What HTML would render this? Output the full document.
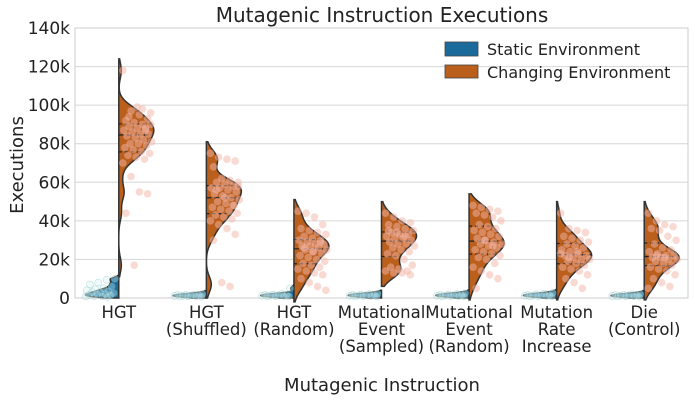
<!DOCTYPE html>
<html><head><meta charset="utf-8"><style>
body{margin:0;background:#fff;}
svg{display:block;font-family:"DejaVu Sans","Liberation Sans",sans-serif;}
</style></head><body>
<svg id="chart" width="695" height="401" viewBox="0 0 695 401">
<text x="382" y="22" text-anchor="middle" font-size="20" fill="#222">Mutagenic Instruction Executions</text>
<text x="382" y="391" text-anchor="middle" font-size="18" fill="#222">Mutagenic Instruction</text>
<text x="0" y="0" transform="translate(23,165) rotate(-90)" text-anchor="middle" font-size="18" fill="#222">Executions</text>
<g id="grid"></g><g id="marks"></g><g id="ticks"></g>
<g>
<rect x="445" y="42" width="33" height="14" fill="#1a6b9c" stroke="#444" stroke-width="0.8"/>
<text x="487" y="55" font-size="16" fill="#222">Static Environment</text>
<rect x="445" y="65" width="33" height="13" fill="#bb5f1c" stroke="#444" stroke-width="0.8"/>
<text x="487" y="78" font-size="16" fill="#222">Changing Environment</text>
</g>
</svg>
<script>
const categories=[["HGT"],["HGT","(Shuffled)"],["HGT","(Random)"],["Mutational","Event","(Sampled)"],["Mutational","Event","(Random)"],["Mutation","Rate","Increase"],["Die","(Control)"]];
const yTicks=[0,20000,40000,60000,80000,100000,120000,140000];
const yTickLabels=["0","20k","40k","60k","80k","100k","120k","140k"];
const changing=[
[118,97,95,93,92,91,90,90,89,88,88,87,86,85,85,84,83,82,81,80,80,79,78,77,76,75,74,73,72,70,63,55,54,44,17,98,96,94,99,87],
[75,73,72,71,68,62,61,60,60,59,58,57,57,56,55,54,53,52,51,50,49,48,47,46,45,44,43,42,41,40,38,36,33,30,8,6,58,56,52,48],
[45,44,42,38,36,35,34,33,32,31,30,30,29,28,28,27,27,26,25,25,24,23,22,21,20,19,18,17,16,15,14,13,12,10,8,6,4,26,24,29],
[44,42,40,39,38,37,36,35,34,33,33,32,31,31,30,29,28,28,27,26,25,24,23,22,20,17,16,15,14,14,13,13,12,35,34,32],
[48,47,46,45,44,43,42,40,38,37,36,35,34,33,32,31,30,29,28,28,27,26,25,24,23,22,21,20,18,16,14,12,10,5,30,27],
[44,36,35,34,32,31,30,29,28,27,26,25,24,23,22,22,21,20,20,19,18,17,16,15,14,12,10,8,5,23,21,24],
[44,40,38,37,36,35,32,30,28,26,25,24,23,22,22,21,21,20,20,19,18,17,16,15,14,12,10,8,6,5,22,21]];
const staticEnv=[
[10,9.5,8,7,6,5,4.5,4,3.5,3,3,2.5,2,2,1.5,1.5,1,1,0.8,0.5],
[2,1.8,1.6,1.5,1.4,1.3,1.2,1.1,1,0.9,0.8,0.7],
[5,2,1.8,1.6,1.5,1.4,1.3,1.2,1.1,1,0.9,0.8],
[2.2,2,1.8,1.6,1.5,1.4,1.3,1.2,1.1,1,0.9,0.8],
[2.4,2,1.8,1.6,1.5,1.4,1.3,1.2,1.1,1,0.9,0.8],
[2.6,2.2,1.9,1.6,1.5,1.4,1.3,1.2,1.1,1,0.9,0.8],
[2,1.8,1.6,1.5,1.4,1.3,1.2,1.1,1,0.9,0.8,0.7]];
const NS="http://www.w3.org/2000/svg";
const X0=75,X1=688,Y0=298,Y1=28,YMAX=140000;
const yS=v=>Y0-(v/YMAX)*(Y0-Y1);
const band=(X1-X0)/categories.length;
const xC=i=>X0+band*(i+0.5);
function mk(t,a,p){const e=document.createElementNS(NS,t);for(const k in a)e.setAttribute(k,a[k]);(p||document.getElementById('marks')).appendChild(e);return e;}
const grid=document.getElementById('grid'),ticks=document.getElementById('ticks');
yTicks.forEach((t,i)=>{
 const l=mk('line',{x1:X0,x2:X1,y1:yS(t),y2:yS(t),stroke:'#d6d6d6','stroke-width':1},grid);
 
 
 const tx=mk('text',{x:X0-5,y:yS(t)+6,'text-anchor':'end','font-size':17,fill:'#222'},ticks);
 tx.textContent=yTickLabels[i];
 
 
});
const fr=mk('rect',{x:X0,y:Y1,width:X1-X0,height:Y0-Y1,fill:'none',stroke:'#ccc','stroke-width':1},grid);


function kde(vals,bw,lo,hi,n){const out=[];for(let k=0;k<=n;k++){const y=lo+(hi-lo)*k/n;let d=0;vals.forEach(v=>{const z=(y-v)/bw;d+=Math.exp(-0.5*z*z);});out.push([y,d/vals.length/bw]);}return out;}
function quant(a,q){const s=[...a].sort((x,y)=>x-y);const p=(s.length-1)*q,f=Math.floor(p);return s[f]+(s[Math.min(f+1,s.length-1)]-s[f])*(p-f);}
const MAXW=35;
categories.forEach((c,i)=>{
 const cx=xC(i);
 const ch=changing[i].map(v=>v*1000), st=staticEnv[i].map(v=>v*1000);
 const bw=4000, bws=900;
 const dc=kde(ch,bw,Math.min(...ch)-1.5*bw,Math.max(...ch)+1.5*bw,120);
 const ds=kde(st,bws,Math.max(0,Math.min(...st)-2*bws),Math.max(...st)+2*bws,60);
 const mc=Math.max(...dc.map(d=>d[1])), ms=Math.max(...ds.map(d=>d[1]));
 const wc=d=>d/mc*MAXW, ws=d=>d/ms*MAXW*0.95;
 let p='M'+cx+','+yS(ds[0][0]);ds.forEach(d=>p+='L'+(cx-ws(d[1]))+','+yS(d[0]));p+='L'+cx+','+yS(ds[ds.length-1][0])+'Z';
 const sv=mk('path',{d:p,fill:'#1a6b9c',stroke:'#333','stroke-width':1.5});
 
 
 p='M'+cx+','+yS(dc[0][0]);dc.forEach(d=>p+='L'+(cx+wc(d[1]))+','+yS(d[0]));p+='L'+cx+','+yS(dc[dc.length-1][0])+'Z';
 const cv=mk('path',{d:p,fill:'#bb5f1c',stroke:'#333','stroke-width':1.5});
 
 
 const dens=y=>{let d=0;ch.forEach(v=>{const z=(y-v)/bw;d+=Math.exp(-0.5*z*z);});return d/ch.length/bw;};
 [0.25,0.5,0.75].forEach(q=>{const v=quant(ch,q);
  const ql=mk('line',{x1:cx,x2:cx+wc(dens(v)),y1:yS(v),y2:yS(v),stroke:'#222','stroke-width':1.2,'stroke-dasharray':q==0.5?'5,3':'3,3'});
  
  });
 ch.forEach((v,k)=>{const f=((k*37)%29)/29;
  const pt=mk('circle',{cx:cx+4+f*30,cy:yS(v),r:3.8,fill:'#f4b5a8','fill-opacity':0.5});
  
  });
 st.forEach((v,k)=>{const f=((k*37)%29)/29;
  const pt=mk('circle',{cx:cx-4-f*30,cy:yS(v),r:3.5,fill:'#d2f2f4','fill-opacity':0.35,stroke:'#7bb','stroke-width':0.5,'stroke-opacity':0.6});
  
  });
 c.forEach((ln,j)=>{const t=mk('text',{x:cx,y:318+j*17,'text-anchor':'middle','font-size':16.5,fill:'#222'},ticks);
  t.textContent=ln;
  
  });
});
</script>
</body></html>
